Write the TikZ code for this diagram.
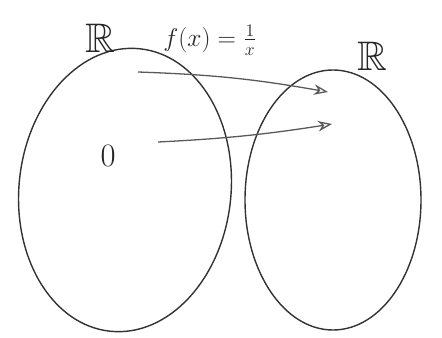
\documentclass[tikz,border=0pt]{standalone}
\usepackage{amssymb}
\usetikzlibrary{arrows.meta}
\tikzset{
    realset/.style={draw, line width=1.2pt, black!80},
    maparrow/.style={-{Stealth[open, length=12pt, width=9pt]}, line width=1.1pt, black!65},
    handtext/.style={scale=1.7, black!85},
}
\begin{document}
\begin{tikzpicture}[x=0.03cm, y=-0.03cm]
    \useasboundingbox (0,0) rectangle (442,338);

    % the two copies of R
    \draw[realset, rotate around={-6:(125,190)}] (125,190) ellipse (106 and 142);
    \draw[realset] (333,200) ellipse (88 and 130);
    \node[handtext] (labA) at (100,38) {\huge$\mathbb{R}$};
    \node[handtext] (labB) at (372,56) {\huge$\mathbb{R}$};
    \node[handtext, scale=0.74] (func) at (210,40) {\LARGE$f(x)=\frac{1}{x}$};
    \node[handtext, scale=0.95] (zero) at (108,156) {\LARGE$0$};

    % the mapping arrows
    \coordinate (a1) at (138,72);
    \coordinate (b1) at (328,92);
    \coordinate (a2) at (158,142);
    \coordinate (b2) at (332,124);
    \draw[maparrow] (a1) to[bend left=4] (b1);
    \draw[maparrow] (a2) to[bend right=3] (b2);
\end{tikzpicture}
\end{document}
